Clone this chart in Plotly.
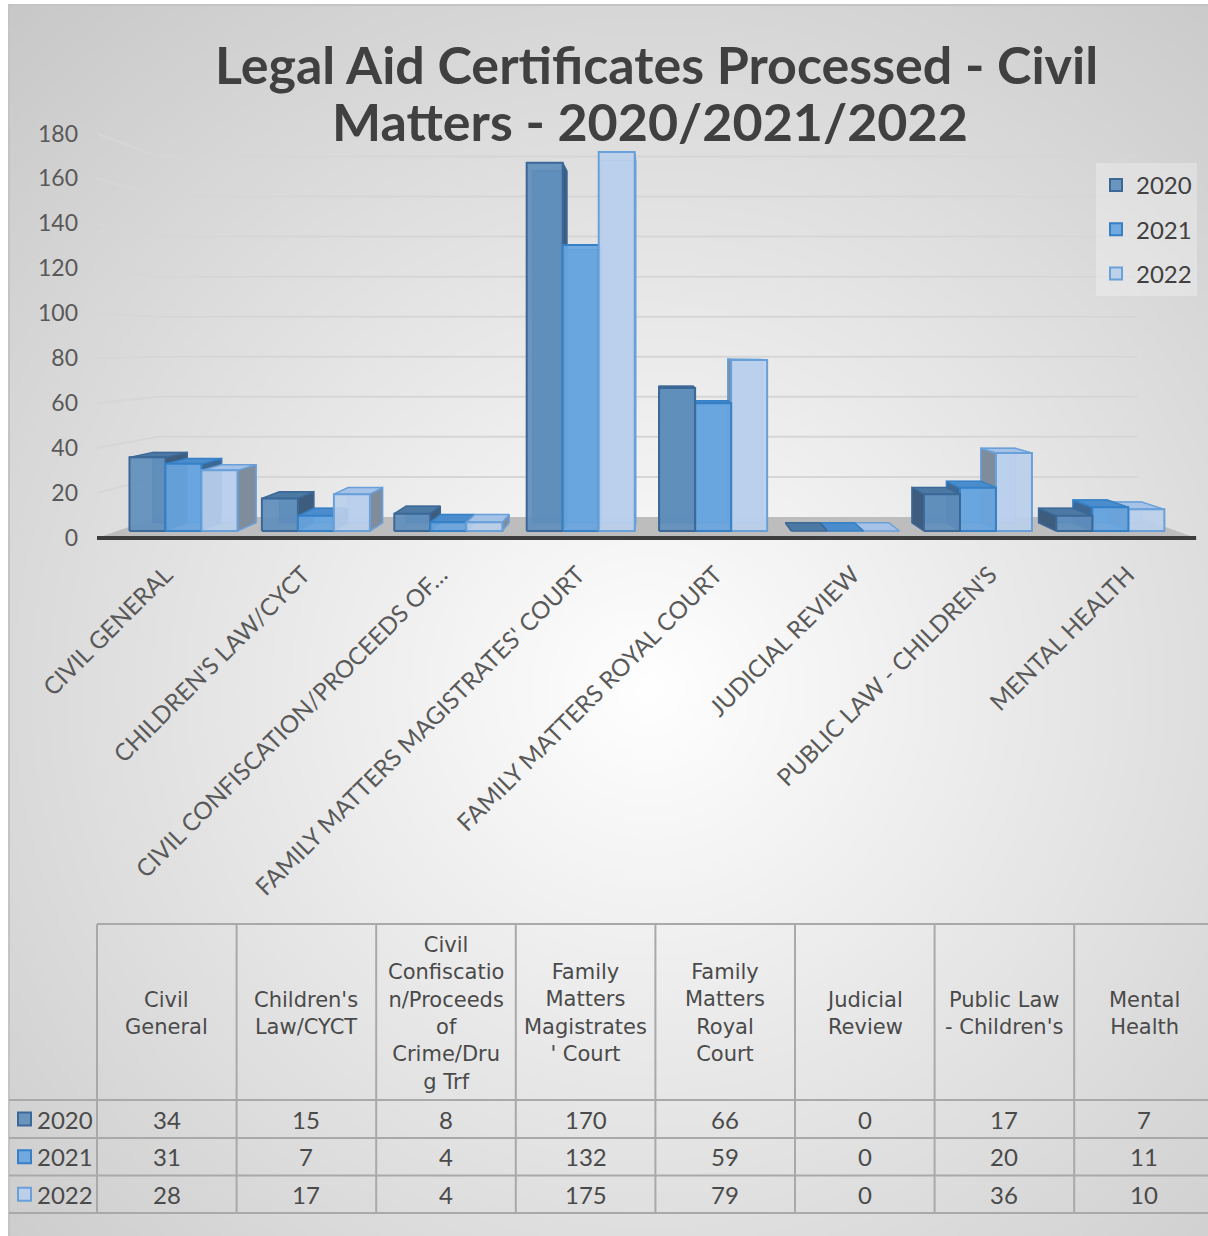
import base64
import struct
import zlib

import numpy as np
import plotly.graph_objects as go

# ---------------------------------------------------------------- data
categories = [
    "CIVIL GENERAL",
    "CHILDREN'S LAW/CYCT",
    "CIVIL CONFISCATION/PROCEEDS OF…",
    "FAMILY MATTERS MAGISTRATES' COURT",
    "FAMILY MATTERS ROYAL COURT",
    "JUDICIAL REVIEW",
    "PUBLIC LAW - CHILDREN'S",
    "MENTAL HEALTH",
]
table_headers = [
    "Civil<br>General",
    "Children's<br>Law/CYCT",
    "Civil<br>Confiscatio<br>n/Proceeds<br>of<br>Crime/Dru<br>g Trf",
    "Family<br>Matters<br>Magistrates<br>' Court",
    "Family<br>Matters<br>Royal<br>Court",
    "Judicial<br>Review",
    "Public Law<br>- Children's",
    "Mental<br>Health",
]
years = ["2020", "2021", "2022"]
values_2020 = [34, 15, 8, 170, 66, 0, 17, 7]
values_2021 = [31, 7, 4, 132, 59, 0, 20, 11]
values_2022 = [28, 17, 4, 175, 79, 0, 36, 10]
y_ticks = [0, 20, 40, 60, 80, 100, 120, 140, 160, 180]
title_lines = ["Legal Aid Certificates Processed - Civil", "Matters - 2020/2021/2022"]

series = [values_2020, values_2021, values_2022]

# ---------------------------------------------------------------- styles
FONT = "Lato"
TABLE_FONT = "DejaVu Sans"
TEXT = "#4a4a4a"
# front, top, side, edge colours for each year
STYLE = [
    dict(front="rgba(96,142,188,0.92)", top="#4c78a4", side="#3e5c7e", edge="#3b6896"),
    dict(front="rgba(104,165,222,0.92)", top="#4a8ccc", side="#3d6894", edge="#3580c6"),
    dict(front="rgba(186,207,235,0.92)", top="#a6c2e6", side="#7e8c9c", edge="#6aa0da"),
]

W, H = 1208, 1236
M_L, M_R, M_T, M_B = 97, 8, 102, 689
X_RANGE = [-0.5, 7.528]
Y_RANGE = [-4, 194]


def paper_x(px):
    return (px - M_L) / (W - M_L - M_R)


def paper_y(py):
    return (H - M_B - py) / (H - M_T - M_B)


# ---------------------------------------------------------------- 3-D projection
# Points are (category position, value, depth scale); depth scale 1 is the
# front edge of the floor, smaller values recede toward the vanishing point.
VX, VY = 3.568, 85.9
S_FRONT, S_BAR_FRONT, S_BAR_BACK, S_BACK = 1.0, 0.9637, 0.921, 0.891
BAR_W = 0.272


def proj(x, y, s):
    return VX + (x - VX) * s, VY + (y - VY) * s


def polygon(pts, fill, edge, width=1.5):
    xs, ys = zip(*[proj(*p) for p in pts])
    xs = list(xs) + [xs[0]]
    ys = list(ys) + [ys[0]]
    return go.Scatter(
        x=xs, y=ys, mode="lines", fill="toself", fillcolor=fill,
        line=dict(color=edge, width=width), hoverinfo="skip", showlegend=False,
    )


fig = go.Figure()

# floor
fig.add_trace(polygon([(-0.5, 0, S_FRONT), (7.5, 0, S_FRONT), (7.5, 0, S_BACK), (-0.5, 0, S_BACK)],
                      "#bdbdbd", "rgba(0,0,0,0)", 0))
fx0, fy0 = proj(-0.5, 0, S_FRONT)
fx1, fy1 = proj(7.5, 0, S_FRONT)
fig.add_trace(go.Scatter(x=[fx0, fx1], y=[fy0, fy1], mode="lines",
                         line=dict(color="#3c3c3c", width=4), hoverinfo="skip", showlegend=False))

# gridlines on the side wall and back wall
gx, gy = [], []
for v in y_ticks[1:]:
    for p in [(-0.5, v, S_FRONT), (-0.5, v, S_BACK), (7.5, v, S_BACK)]:
        x, y = proj(*p)
        gx.append(x)
        gy.append(y)
    gx.append(None)
    gy.append(None)
fig.add_trace(go.Scatter(x=gx, y=gy, mode="lines", line=dict(color="#d6d6d6", width=2),
                         hoverinfo="skip", showlegend=False))

# bars, painted from the outside in so nearer faces cover farther ones
bars = []
for j, vals in enumerate(series):
    for i, v in enumerate(vals):
        x0 = i - 1.5 * BAR_W + j * BAR_W
        bars.append((abs(x0 + BAR_W / 2 - VX), i, j, x0, x0 + BAR_W, v))
bars.sort(key=lambda b: -b[0])

for _, i, j, x0, x1, v in bars:
    st = STYLE[j]
    # back face (seen through the glassy front)
    fig.add_trace(polygon([(x0, 0, S_BAR_BACK), (x1, 0, S_BAR_BACK), (x1, v, S_BAR_BACK), (x0, v, S_BAR_BACK)],
                          st["front"], st["edge"], 1))
    # inner side face
    if x1 < VX:
        fig.add_trace(polygon([(x1, 0, S_BAR_FRONT), (x1, v, S_BAR_FRONT), (x1, v, S_BAR_BACK), (x1, 0, S_BAR_BACK)],
                              st["side"], st["edge"], 1.5))
    elif x0 > VX:
        fig.add_trace(polygon([(x0, 0, S_BAR_FRONT), (x0, v, S_BAR_FRONT), (x0, v, S_BAR_BACK), (x0, 0, S_BAR_BACK)],
                              st["side"], st["edge"], 1.5))
    # top face
    if v < VY:
        fig.add_trace(polygon([(x0, v, S_BAR_FRONT), (x1, v, S_BAR_FRONT), (x1, v, S_BAR_BACK), (x0, v, S_BAR_BACK)],
                              st["top"], st["edge"], 1.5))
    # front face
    if v > 0:
        fig.add_trace(polygon([(x0, 0, S_BAR_FRONT), (x1, 0, S_BAR_FRONT), (x1, v, S_BAR_FRONT), (x0, v, S_BAR_FRONT)],
                              st["front"], st["edge"], 2))

# legend entries
for j, yr in enumerate(years):
    fig.add_trace(go.Bar(x=[None], y=[None], name=yr, legendgroup=yr,
                         marker=dict(color=STYLE[j]["front"], line=dict(color=STYLE[j]["edge"], width=2))))

# ---------------------------------------------------------------- background
def gray_png(arr):
    h, w = arr.shape
    raw = b"".join(b"\x00" + arr[r].tobytes() for r in range(h))

    def chunk(tag, data):
        return (struct.pack(">I", len(data)) + tag + data
                + struct.pack(">I", zlib.crc32(tag + data) & 0xFFFFFFFF))

    return (b"\x89PNG\r\n\x1a\n"
            + chunk(b"IHDR", struct.pack(">IIBBBBB", w, h, 8, 0, 0, 0, 0))
            + chunk(b"IDAT", zlib.compress(raw, 9))
            + chunk(b"IEND", b""))


FR_X0, FR_Y0, FR_X1, FR_Y1 = 9, 5, 1214, 1242
gh, gw = 310, 300
yy, xx = np.mgrid[0:gh, 0:gw]
px = FR_X0 + xx / (gw - 1) * (FR_X1 - FR_X0)
py = FR_Y0 + yy / (gh - 1) * (FR_Y1 - FR_Y0)
d = np.sqrt(((px - 650) / 900) ** 2 + ((py - 690) / 880) ** 2)
shade = (255 - 52 * np.clip(d, 0, 1.05)).astype(np.uint8)
bg_uri = "data:image/png;base64," + base64.b64encode(gray_png(shade)).decode()

fig.add_layout_image(dict(
    source=bg_uri, xref="paper", yref="paper",
    x=paper_x(FR_X0), y=paper_y(FR_Y0),
    sizex=paper_x(FR_X1) - paper_x(FR_X0), sizey=paper_y(FR_Y0) - paper_y(FR_Y1),
    xanchor="left", yanchor="top", sizing="stretch", layer="below",
))

shapes = [dict(type="rect", xref="paper", yref="paper",
               x0=paper_x(FR_X0), x1=paper_x(FR_X1), y0=paper_y(FR_Y0), y1=paper_y(FR_Y1),
               line=dict(color="#c4c4c4", width=2), layer="below")]
annotations = []

# ---------------------------------------------------------------- data table
GRID = "#a9a9a9"
COL_X0, COL_W = 97, 139.6
HEAD_TOP, HEAD_BOT = 924, 1100
ROW_EDGES = [1100, 1138, 1175.5, 1213]
TABLE_RIGHT = COL_X0 + COL_W * len(categories)


def hline(py, px0, px1):
    shapes.append(dict(type="line", xref="paper", yref="paper",
                       x0=paper_x(px0), x1=paper_x(px1), y0=paper_y(py), y1=paper_y(py),
                       line=dict(color=GRID, width=2)))


def vline(px, py0, py1):
    shapes.append(dict(type="line", xref="paper", yref="paper",
                       x0=paper_x(px), x1=paper_x(px), y0=paper_y(py0), y1=paper_y(py1),
                       line=dict(color=GRID, width=2)))


hline(HEAD_TOP, COL_X0, TABLE_RIGHT)
for ry in ROW_EDGES:
    hline(ry, FR_X0, TABLE_RIGHT)
for k in range(len(categories) + 1):
    vline(COL_X0 + k * COL_W, HEAD_TOP, ROW_EDGES[-1])

for k, head in enumerate(table_headers):
    annotations.append(dict(
        xref="paper", yref="paper", x=paper_x(COL_X0 + (k + 0.5) * COL_W),
        y=paper_y((HEAD_TOP + HEAD_BOT) / 2 + 1), text=head, showarrow=False,
        xanchor="center", yanchor="middle", align="center",
        font=dict(family=TABLE_FONT, size=21, color=TEXT)))

for r, (yr, vals) in enumerate(zip(years, series)):
    cy = (ROW_EDGES[r] + ROW_EDGES[r + 1]) / 2
    shapes.append(dict(type="rect", xref="paper", yref="paper",
                       x0=paper_x(18), x1=paper_x(31), y0=paper_y(cy - 6.5), y1=paper_y(cy + 6.5),
                       fillcolor=STYLE[r]["front"], line=dict(color=STYLE[r]["edge"], width=2)))
    annotations.append(dict(
        xref="paper", yref="paper", x=paper_x(35), y=paper_y(cy), text=yr, showarrow=False,
        xanchor="left", yanchor="middle", font=dict(family=FONT, size=24, color=TEXT)))
    for k, v in enumerate(vals):
        annotations.append(dict(
            xref="paper", yref="paper", x=paper_x(COL_X0 + (k + 0.5) * COL_W), y=paper_y(cy),
            text=str(v), showarrow=False, xanchor="center", yanchor="middle",
            font=dict(family=FONT, size=24, color=TEXT)))

# ---------------------------------------------------------------- title
for line, (cx, cy) in zip(title_lines, [(656, 64), (650, 121)]):
    annotations.append(dict(
        xref="paper", yref="paper", x=paper_x(cx), y=paper_y(cy),
        text="<b>" + line + "</b>", showarrow=False, xanchor="center", yanchor="middle",
        font=dict(family=FONT, size=52, color="#404040")))

# ---------------------------------------------------------------- layout
fig.update_layout(
    width=W, height=H,
    margin=dict(l=M_L, r=M_R, t=M_T, b=M_B, autoexpand=False),
    paper_bgcolor="white", plot_bgcolor="rgba(0,0,0,0)",
    font=dict(family=FONT, color=TEXT),
    showlegend=True,
    legend=dict(
        x=paper_x(1096), y=paper_y(163), xanchor="left", yanchor="top",
        bgcolor="rgba(255,255,255,0.28)", borderwidth=0,
        font=dict(family=FONT, size=24, color="#404040"),
        tracegroupgap=10, itemwidth=30, traceorder="grouped",
    ),
    xaxis=dict(
        range=X_RANGE, tickmode="array", tickvals=list(range(len(categories))),
        ticktext=categories, tickangle=-45, showgrid=False, zeroline=False, showline=False,
        ticks="", ticklabelstandoff=8,
        tickfont=dict(family=FONT, size=24, color="#595959"), fixedrange=True,
    ),
    yaxis=dict(
        range=Y_RANGE, tickmode="array", tickvals=y_ticks, showgrid=False, zeroline=False,
        showline=False, ticks="", ticklabelstandoff=18,
        tickfont=dict(family=FONT, size=23, color="#595959"), fixedrange=True,
    ),
    shapes=shapes,
    annotations=annotations,
)

fig.write_html("out.html")
